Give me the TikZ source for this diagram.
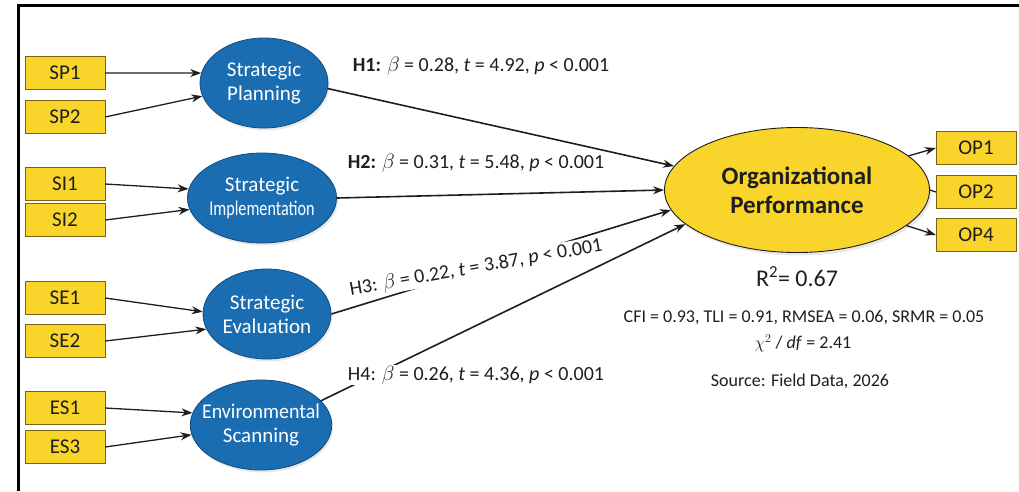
\documentclass[tikz,border=0pt]{standalone}
\usepackage{fontspec}
\setmainfont{Carlito}
\usetikzlibrary{shapes.geometric,arrows.meta,shadows}
\definecolor{latblue}{HTML}{1B6DB1}
\definecolor{latedge}{HTML}{0F4C80}
\definecolor{indyel}{HTML}{F9D52B}
\definecolor{indedge}{HTML}{7A6410}
\definecolor{inktxt}{HTML}{1E1E1E}
\begin{document}
\begin{tikzpicture}[x=1pt, y=-1pt, >={Stealth[length=11pt,width=8pt]},
  ind/.style={draw=indedge, fill=indyel, text=inktxt, minimum width=80pt, minimum height=33pt,
    inner sep=0pt, font=\fontsize{21}{21}\selectfont},
  lat/.style={ellipse, draw=latedge, line width=0.8pt, fill=latblue, text=white, minimum width=128pt,
    minimum height=90pt, inner sep=0pt, align=center, font=\fontsize{21}{24}\selectfont,
    drop shadow={opacity=0.18, shadow xshift=1.5pt, shadow yshift=-2.5pt}},
  load/.style={->, line width=1.3pt, draw=inktxt},
  hyp/.style={->, line width=1.6pt, draw=inktxt},
  est/.style={font=\fontsize{20}{20}\selectfont, text=inktxt},
  fit/.style={font=\fontsize{18}{18}\selectfont, text=inktxt}]
  \useasboundingbox (0,0) rectangle (1019,491);
  % Frame
  \draw[line width=3pt] (18,491) -- (18,5) -- (1019,5);
  % Indicators
  \foreach \nm/\y/\lbl in {sp1/73/SP1, sp2/117/SP2, si1/184/SI1, si2/220/SI2,
                           se1/298/SE1, se2/341/SE2, es1/408/ES1, es3/447/ES3}{
    \node[ind] (\nm) at (65,\y) {\lbl};
  }
  % Latent constructs
  \node[lat] (SP) at (264,83) {Strategic\\Planning};
  \node[lat] (SI) at (262,198) {Strategic\\\scalebox{0.77}[1]{Implementation}};
  \node[lat] (SE) at (267,314) {Strategic\\Evaluation};
  \node[lat, minimum width=136pt] (ES) at (261,425)
    {\makebox[100pt]{\scalebox{0.95}[1]{Environmental}}\\Scanning};
  \node[ellipse, draw=inktxt, line width=0.9pt, fill=indyel, text=inktxt, minimum width=265pt,
    minimum height=125pt, inner sep=0pt, align=center,
    drop shadow={opacity=0.18, shadow xshift=2pt, shadow yshift=-3pt},
    font=\bfseries\fontsize{25}{29}\selectfont] (OP) at (797,190) {Organizational\\Performance};
  \foreach \nm/\y/\lbl in {op1/148/OP1, op2/192/OP2, op4/235/OP4}{
    \node[ind] (\nm) at (976,\y) {\lbl};
  }
  % Loadings
  \draw[load] (sp1.east) -- (SP.171);
  \draw[load] (sp2.east) -- (SP.192);
  \draw[load] (si1.east) -- (SI.173);
  \draw[load] (si2.east) -- (SI.189);
  \draw[load] (se1.east) -- (SE.178);
  \draw[load] (se2.east) -- (SE.194);
  \draw[load] (es1.east) -- (ES.170);
  \draw[load] (es3.east) -- (ES.188);
  \draw[load] (OP.17) -- (op1.west);
  \draw[line width=1.3pt, draw=inktxt] (OP.east) -- (op2.west);
  \draw[load] (OP.-18) -- (op4.west);
  % Structural paths
  \draw[hyp] (SP.-5) -- (OP.169);
  \draw[hyp] (SI.east) -- (OP.180);
  \draw[hyp] (SE.east) -- (OP.189);
  \draw[hyp] (ES.22) -- (OP.197);
  % Estimates
  \node[est] (h1) at (481,66) {\textbf{H1:} $\beta$ = 0.28, \textit{t} = 4.92, \textit{p} < 0.001};
  \node[est] (h2) at (476,163) {\textbf{H2:} $\beta$ = 0.31, \textit{t} = 5.48, \textit{p} < 0.001};
  \node[est, fill=white, inner sep=1pt, rotate=10] (h3) at (476,268) {H3: $\beta$ = 0.22, \textit{t} = 3.87, \textit{p} < 0.001};
  \node[est, fill=white, inner sep=1pt] (h4) at (476,375) {H4: $\beta$ = 0.26, \textit{t} = 4.36, \textit{p} < 0.001};
  % Fit
  \node[font=\fontsize{24}{24}\selectfont, text=inktxt] (r2) at (797,277) {R\textsuperscript{2}= 0.67};
  \node[fit] (gof) at (804,318) {CFI = 0.93, TLI = 0.91, RMSEA = 0.06, SRMR = 0.05};
  \node[fit] (chi) at (803,343) {$\chi^2$ / \textit{df} = 2.41};
  \node[fit] (src) at (800,381) {Source: Field Data, 2026};
\end{tikzpicture}
\end{document}
